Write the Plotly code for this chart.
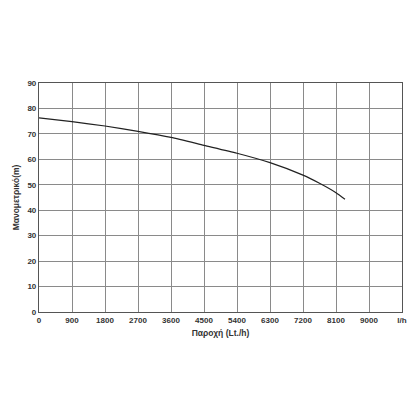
import plotly.graph_objects as go

flow = [0, 900, 1800, 2700, 3600, 4500, 5400, 6300, 7200, 7650, 8100, 8345]
head = [76.3, 74.8, 73.1, 71.0, 68.6, 65.5, 62.4, 58.7, 53.8, 50.6, 46.9, 44.3]

x_tickvals = [0, 900, 1800, 2700, 3600, 4500, 5400, 6300, 7200, 8100, 9000, 9900]
x_ticktext = ["0", "900", "1800", "2700", "3600", "4500", "5400", "6300", "7200", "8100", "9000", "l/h"]
y_tickvals = [0, 10, 20, 30, 40, 50, 60, 70, 80, 90]

fig = go.Figure()
fig.add_trace(go.Scatter(x=flow, y=head, mode="lines",
                         line=dict(color="#222222", width=1.2, shape="spline", smoothing=0.6),
                         hoverinfo="skip", showlegend=False))

tf = dict(family="Liberation Sans, Arial", size=8, color="#333333", weight="bold")
fig.update_layout(
    width=420, height=420,
    margin=dict(l=31, r=26, t=75, b=116),
    paper_bgcolor="white", plot_bgcolor="white",
    xaxis=dict(range=[0, 9900], tickvals=x_tickvals, ticktext=x_ticktext, automargin=False,
               showgrid=True, gridcolor="#8a8a8a", gridwidth=0.8,
               showline=True, linecolor="#555555", linewidth=1.2, mirror=True,
               zeroline=False, ticks="", tickfont=tf,
               title=dict(text="Παροχή (Lt./h)", font=dict(family="Liberation Sans, Arial", size=8.5,
                                                          color="#333333", weight="bold"), standoff=6)),
    yaxis=dict(range=[0, 90], tickvals=y_tickvals, automargin=False,
               showgrid=True, gridcolor="#8a8a8a", gridwidth=0.8,
               showline=True, linecolor="#555555", linewidth=1.2, mirror=True,
               zeroline=False, ticks="", tickfont=tf,
               title=dict(text="Μανομετρικό(m)", font=dict(family="Liberation Sans, Arial", size=8.5,
                                                          color="#333333", weight="bold"), standoff=6)),
)
fig.write_html("out.html")
